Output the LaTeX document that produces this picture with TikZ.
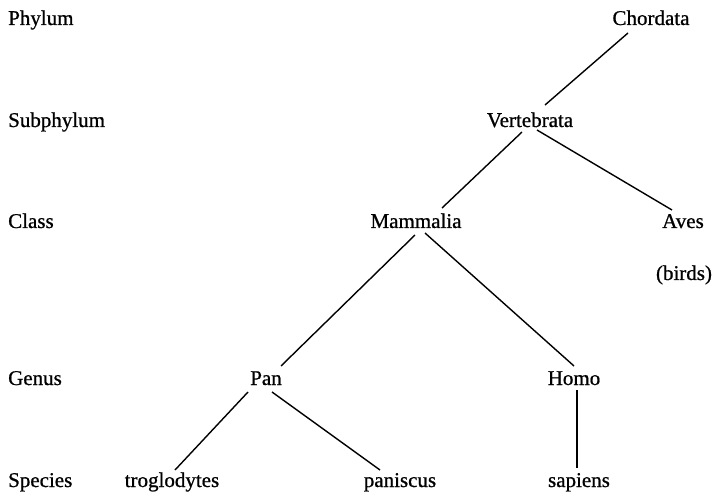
\documentclass[tikz,border=0pt]{standalone}
\usepackage{fontspec}
\setmainfont{Liberation Serif}[FakeBold=0.8]
\begin{document}
\begin{tikzpicture}[x=1pt,y=1pt,
  txt/.style={inner sep=0pt, anchor=base, font=\fontsize{21}{25}\selectfont},
  rank/.style={txt, anchor=base west},
  edge/.style={line width=1.4pt}]
\useasboundingbox (0,0) rectangle (715,496);
% rank labels
\node[rank] (phylum)    at (8,471) {Phylum};
\node[rank] (subphylum) at (8,369) {Subphylum};
\node[rank] (class)     at (8,268) {Class};
\node[rank] (genus)     at (8,111) {Genus};
\node[rank] (species)   at (8,9)   {Species};
% taxa
\node[txt] (chordata)   at (651,471) {Chordata};
\node[txt] (vertebrata) at (530,369) {Vertebrata};
\node[txt] (mammalia)   at (416,268) {Mammalia};
\node[txt] (aves)       at (683,268) {Aves};
\node[txt] (birds)      at (684,216) {(birds)};
\node[txt] (pan)        at (266,111) {Pan};
\node[txt] (homo)       at (574,111) {Homo};
\node[txt] (trog)       at (172,9)   {troglodytes};
\node[txt] (panis)      at (400,9)   {paniscus};
\node[txt] (sapiens)    at (579,9)   {sapiens};
% connectors
\draw[edge] ([xshift=-23pt,yshift=-8pt]chordata.base) -- ([xshift=15pt,yshift=22pt]vertebrata.base);
\draw[edge] ([xshift=-8pt,yshift=-5pt]vertebrata.base) -- ([xshift=26pt,yshift=20pt]mammalia.base);
\draw[edge] ([xshift=7pt,yshift=-3pt]vertebrata.base) -- ([xshift=-11pt,yshift=18pt]aves.base);
\draw[edge] ([xshift=-1pt,yshift=-7pt]mammalia.base) -- ([xshift=15pt,yshift=19pt]pan.base);
\draw[edge] ([xshift=9pt,yshift=-5pt]mammalia.base) -- ([xshift=0pt,yshift=19pt]homo.base);
\draw[edge] ([xshift=-18pt,yshift=-7pt]pan.base) -- ([xshift=3pt,yshift=17pt]trog.base);
\draw[edge] ([xshift=6pt,yshift=-7pt]pan.base) -- ([xshift=-20pt,yshift=17pt]panis.base);
\draw[edge] ([xshift=3pt,yshift=-5pt]homo.base) -- ([xshift=-2pt,yshift=19pt]sapiens.base);
\end{tikzpicture}
\end{document}
